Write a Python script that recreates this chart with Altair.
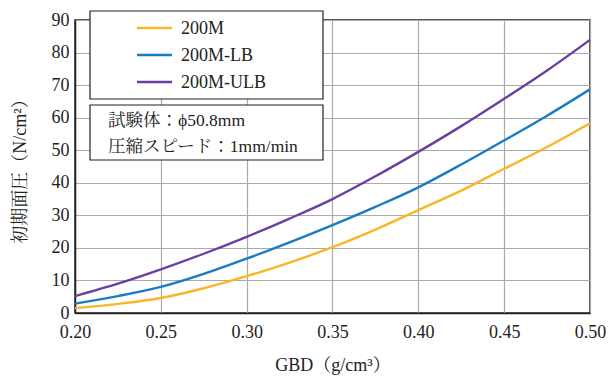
import altair as alt
import pandas as pd

# ---- data ----
gbd = [0.200, 0.225, 0.250, 0.275, 0.300, 0.325, 0.350, 0.375, 0.400, 0.425, 0.450, 0.475, 0.500]
p_200m = [1.5, 2.8, 4.6, 7.6, 11.3, 15.5, 20.2, 25.6, 31.6, 37.6, 44.3, 51.0, 58.3]
p_200m_lb = [2.9, 5.2, 8.0, 12.0, 16.7, 21.7, 27.0, 32.6, 38.6, 45.6, 53.0, 60.6, 68.7]
p_200m_ulb = [5.2, 9.0, 13.4, 18.2, 23.4, 29.0, 35.0, 42.0, 49.5, 57.4, 65.8, 74.5, 83.9]

series = ["200M", "200M-LB", "200M-ULB"]
colors = ["#F9B626", "#1B7BC0", "#6A3FA0"]
note_lines = ["試験体：ϕ50.8mm", "圧縮スピード：1mm/min"]

x_ticks = [0.20, 0.25, 0.30, 0.35, 0.40, 0.45, 0.50]
y_ticks = [0, 10, 20, 30, 40, 50, 60, 70, 80, 90]

rows = []
for name, vals in zip(series, [p_200m, p_200m_lb, p_200m_ulb]):
    for g, v in zip(gbd, vals):
        rows.append({"gbd": g, "p": v, "series": name})
df = pd.DataFrame(rows)

FONT = "Liberation Serif, Noto Serif CJK JP, Noto Sans CJK JP, serif"
W, H = 515, 293

lines = alt.Chart(df).mark_line(strokeWidth=2.4, interpolate="monotone").encode(
    x=alt.X("gbd:Q",
            scale=alt.Scale(domain=[0.2, 0.5], nice=False, zero=False),
            axis=alt.Axis(values=x_ticks, format=".2f", title="GBD（g/cm³）",
                          titleY=52, titleBaseline="middle", labelPadding=10,
                          labelFlush=False)),
    y=alt.Y("p:Q",
            scale=alt.Scale(domain=[0, 90], nice=False),
            axis=alt.Axis(values=y_ticks, title="初期面圧（N/cm²）",
                          titleX=-55, titleY=H / 2, titleAngle=270,
                          titleBaseline="middle", titleAlign="center", labelPadding=6,
                          labelFlush=False)),
    color=alt.Color("series:N", scale=alt.Scale(domain=series, range=colors), legend=None),
)

one = pd.DataFrame({"a": [0]})

box1 = alt.Chart(one).mark_rect(fill="white", stroke="#222", strokeWidth=1.2).encode(
    x=alt.value(15), x2=alt.value(248), y=alt.value(-9), y2=alt.value(79))
box2 = alt.Chart(one).mark_rect(fill="white", stroke="#222", strokeWidth=1.2).encode(
    x=alt.value(15), x2=alt.value(248), y=alt.value(85), y2=alt.value(140))

layers = [lines, box1, box2]
for i, (name, col) in enumerate(zip(series, colors)):
    yy = 8 + 27 * i
    layers.append(alt.Chart(one).mark_rule(strokeWidth=2.4, color=col).encode(
        x=alt.value(62), x2=alt.value(97), y=alt.value(yy)))
    layers.append(alt.Chart(one).mark_text(align="left", baseline="middle", font=FONT,
                                           fontSize=18, color="#222", text=name).encode(
        x=alt.value(106), y=alt.value(yy + 1)))
for i, t in enumerate(note_lines):
    layers.append(alt.Chart(one).mark_text(align="left", baseline="middle", font=FONT,
                                           fontSize=17.5, color="#222", text=t).encode(
        x=alt.value(33), y=alt.value(101 + 26 * i)))

chart = alt.layer(*layers).properties(
    width=W, height=H,
    padding={"left": 67, "top": 12, "right": 16, "bottom": 62},
    autosize=alt.AutoSizeParams(type="none"),
).configure_view(stroke="#222", strokeWidth=1.5).configure_axis(
    labelFont=FONT, titleFont=FONT, labelFontSize=18, titleFontSize=18,
    labelColor="#222", titleColor="#222", titleFontWeight="normal",
    gridColor="#aaaaaa", gridWidth=1.2, domainColor="#222", domainWidth=1.5,
    ticks=False,
)

chart.save("out.html", embed_options={"renderer": "svg", "actions": False})
